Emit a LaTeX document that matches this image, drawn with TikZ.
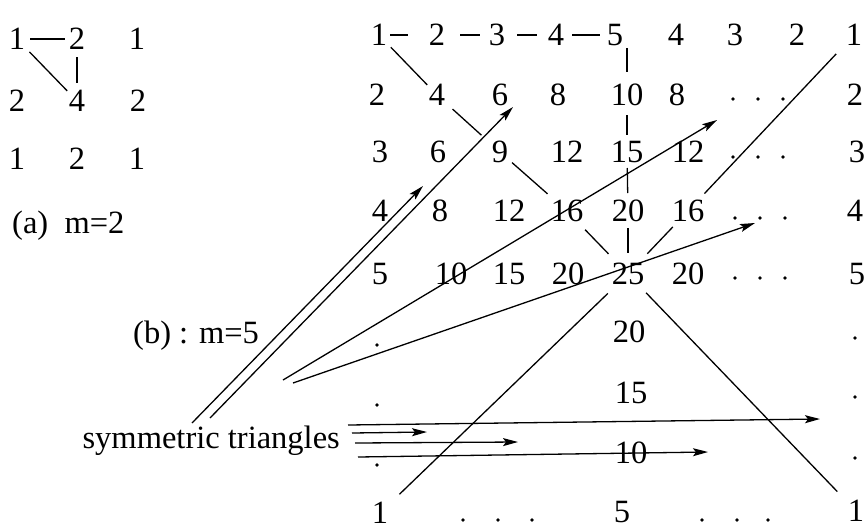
\documentclass[tikz,border=0pt]{standalone}
\usepackage{fontspec}
\setmainfont{Liberation Serif}
\usetikzlibrary{arrows.meta}
\tikzset{
  num/.style={inner sep=0pt, font=\fontsize{32.5}{39}\selectfont},
  lbl/.style={inner sep=0pt, font=\fontsize{32.5}{39}\selectfont, anchor=base west},
  dotn/.style={circle, fill=black, inner sep=0pt, minimum size=3.6pt},
  ln/.style={line width=1.3pt},
  arr/.style={line width=1.3pt, -{Stealth[length=15pt,width=8pt,inset=3pt]}},
}
\begin{document}
\begin{tikzpicture}[x=1pt,y=-1pt]
\useasboundingbox (0,0) rectangle (868,531);
% ---------- (a) m=2 ----------
\node[num] (a11) at (17,39) {1};
\node[num] (a12) at (77,39) {2};
\node[num] (a13) at (137,39) {1};
\node[num] (a21) at (17,101) {2};
\node[num] (a22) at (77,101) {4};
\node[num] (a23) at (138,101) {2};
\node[num] (a31) at (17,159) {1};
\node[num] (a32) at (77,159) {2};
\node[num] (a33) at (137,159) {1};
\node[lbl] (alab) at (12,233) {(a)\ \ m=2};
\draw[ln, shorten <=13pt, shorten >=12pt] (a11.center) -- (a12.center);
\draw[ln, shorten <=18pt, shorten >=14pt] (a11.center) -- (a22.center);
\draw[ln, shorten <=18pt, shorten >=18pt] (a12.center) -- (a22.center);
% ---------- (b) m=5 ----------
% row 1
\node[num] (b11) at (379,35) {1};
\node[num] (b12) at (437,35) {2};
\node[num] (b13) at (497,35) {3};
\node[num] (b14) at (556,35) {4};
\node[num] (b15) at (615,35) {5};
\node[num] (b16) at (676,35) {4};
\node[num] (b17) at (735,35) {3};
\node[num] (b18) at (797,35) {2};
\node[num] (b19) at (854,35) {1};
% row 2
\node[num] (b21) at (377,95) {2};
\node[num] (b22) at (437,95) {4};
\node[num] (b23) at (500,95) {6};
\node[num] (b24) at (558,95) {8};
\node[num] (b25) at (627,95) {10};
\node[num] (b26) at (677,95) {8};
\node[dotn] (d21) at (733,99) {};
\node[dotn] (d22) at (758,99) {};
\node[dotn] (d23) at (783,99) {};
\node[num] (b29) at (855,95) {2};
% row 3
\node[num] (b31) at (380,152) {3};
\node[num] (b32) at (438,152) {6};
\node[num] (b33) at (500,152) {9};
\node[num] (b34) at (567,152) {12};
\node[num] (b35) at (627,152) {15};
\node[num] (b36) at (688,152) {12};
\node[dotn] (d31) at (733,157) {};
\node[dotn] (d32) at (758,157) {};
\node[dotn] (d33) at (783,157) {};
\node[num] (b39) at (857,152) {3};
% row 4
\node[num] (b41) at (380,211) {4};
\node[num] (b42) at (440,211) {8};
\node[num] (b43) at (509,211) {12};
\node[num] (b44) at (567,211) {16};
\node[num] (b45) at (628,211) {20};
\node[num] (b46) at (688,211) {16};
\node[dotn] (d41) at (735,218) {};
\node[dotn] (d42) at (760,218) {};
\node[dotn] (d43) at (785,218) {};
\node[num] (b49) at (855,211) {4};
% row 5
\node[num] (b51) at (380,274) {5};
\node[num] (b52) at (451,274) {10};
\node[num] (b53) at (509,274) {15};
\node[num] (b54) at (568,274) {20};
\node[num] (b55) at (628,274) {25};
\node[num] (b56) at (688,274) {20};
\node[dotn] (d51) at (735,278) {};
\node[dotn] (d52) at (760,278) {};
\node[dotn] (d53) at (785,278) {};
\node[num] (b59) at (857,274) {5};
% rows 6-8
\node[dotn] (d61) at (377,345) {};
\node[num] (b65) at (629,332) {20};
\node[dotn] (d69) at (855,338) {};
\node[dotn] (d71) at (377,405) {};
\node[num] (b75) at (631,393) {15};
\node[dotn] (d79) at (855,397) {};
\node[dotn] (d81) at (377,465) {};
\node[num] (b85) at (631,453) {10};
\node[dotn] (d89) at (855,458) {};
% row 9
\node[num] (b91) at (380,513) {1};
\node[dotn] (d92) at (463,520) {};
\node[dotn] (d93) at (498,520) {};
\node[dotn] (d94) at (532,520) {};
\node[num] (b95) at (622,512) {5};
\node[dotn] (d96) at (702,520) {};
\node[dotn] (d97) at (737,520) {};
\node[dotn] (d98) at (768,520) {};
\node[num] (b99) at (856,511) {1};
% labels
\node[lbl] (blab) at (133,343) {(b) : m=5};
\node[inner sep=0pt, font=\fontsize{32.5}{39}\selectfont, anchor=base east] (sym) at (340,448) {symmetric triangles};
% row-1 connectors
\draw[ln, shorten <=11pt, shorten >=29pt] (b11.center) -- (b12.center);
\draw[ln, shorten <=23pt, shorten >=17pt] (b12.center) -- (b13.center);
\draw[ln, shorten <=20pt, shorten >=19pt] (b13.center) -- (b14.center);
\draw[ln, shorten <=16pt, shorten >=15pt] (b14.center) -- (b15.center);
% vertical 5-10-15-20-25
\draw[ln, shorten <=13pt, shorten >=23pt] (b25.center |- b15.center) -- (b25.center);
\draw[ln, shorten <=20pt, shorten >=17pt] (b25.center) -- (b35.center);
\draw[ln, shorten <=16pt, shorten >=18pt] (b35.center) -- (b45.center);
\draw[ln, shorten <=17pt, shorten >=21pt] (b45.center) -- (b55.center);
% main diagonal 1-4-9-16-25
\draw[ln, shorten <=17pt, shorten >=14pt] (b11.center) -- (b22.center);
\draw[ln, shorten <=21pt, shorten >=25pt] (b22.center) -- (b33.center);
\draw[ln, shorten <=16pt, shorten >=26pt] (b33.center) -- (b44.center);
\draw[ln, shorten <=26pt, shorten >=28pt] (b44.center) -- (b55.center);
% anti-diagonal 1-16-25
\draw[ln, shorten <=26pt, shorten >=24pt] (b19.center) -- (b46.center);
\draw[ln, shorten <=22pt, shorten >=28pt] (b46.center) -- (b55.center);
% lower triangle sides
\draw[ln, shorten <=28pt, shorten >=27pt] (b55.center) -- (b91.center);
\draw[ln, shorten <=26pt, shorten >=27pt] (b55.center) -- (b99.center);
% arrows from labels
\coordinate (pA0) at (192,423); \coordinate (pA1) at (423,186);
\coordinate (pB0) at (210,418); \coordinate (pB1) at (513,107);
\coordinate (pC0) at (283,380); \coordinate (pC1) at (717,120);
\coordinate (pD0) at (293,383); \coordinate (pD1) at (755,223);
\coordinate (pE0) at (348,425); \coordinate (pE1) at (820,419);
\coordinate (pF0) at (352,433); \coordinate (pF1) at (427,432);
\coordinate (pG0) at (355,443); \coordinate (pG1) at (518,442);
\coordinate (pH0) at (358,457); \coordinate (pH1) at (708,452);
\draw[arr] (pA0) -- (pA1);
\draw[arr] (pB0) -- (pB1);
\draw[arr] (pC0) -- (pC1);
\draw[arr] (pD0) -- (pD1);
\draw[arr] (pE0) -- (pE1);
\draw[arr] (pF0) -- (pF1);
\draw[arr] (pG0) -- (pG1);
\draw[arr] (pH0) -- (pH1);
\end{tikzpicture}
\end{document}
